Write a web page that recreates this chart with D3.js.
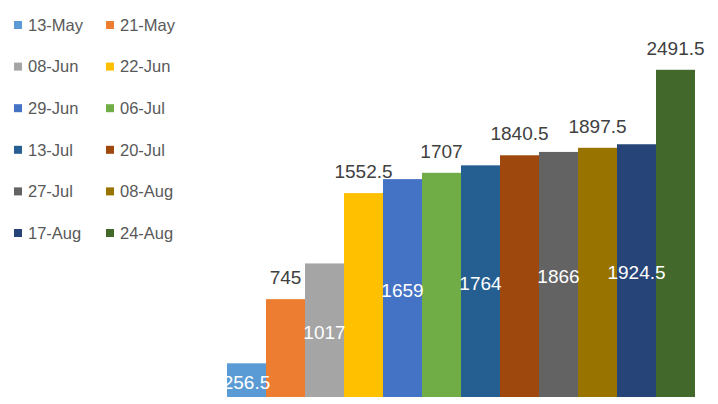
<!DOCTYPE html>
<html><head><meta charset="utf-8">
<script src="https://cdn.jsdelivr.net/npm/d3@7"></script>
<style>body{margin:0;background:#fff}svg{display:block}text{font-family:"Liberation Sans",Arial,sans-serif}</style>
</head><body>
<svg id="c" width="718" height="404"></svg>
<script>
const series = ["13-May","21-May","08-Jun","22-Jun","29-Jun","06-Jul","13-Jul","20-Jul","27-Jul","08-Aug","17-Aug","24-Aug"];
const values = [256.5,745,1017,1552.5,1659,1707,1764,1840.5,1866,1897.5,1924.5,2491.5];
const colors = ["#5B9BD5","#ED7D31","#A5A5A5","#FFC000","#4472C4","#70AD47","#255E91","#9E480E","#636363","#997300","#264478","#43682B"];
const labels = ["256.5","745","1017","1552.5","1659","1707","1764","1840.5","1866","1897.5","1924.5","2491.5"];

const svg = d3.select("#c");
const plot = {left:227, right:712, top:3, bottom:397};
const x = d3.scaleBand().domain(series).range([plot.left, 695]).padding(0);
const y = d3.scaleLinear().domain([0,3000]).range([plot.bottom, plot.top]);

svg.append("clipPath").attr("id","pc").append("rect")
  .attr("x",plot.left).attr("y",0).attr("width",plot.right-plot.left).attr("height",404);

const g = svg.append("g").attr("clip-path","url(#pc)");
g.selectAll("rect.bar").data(values).join("rect").attr("class","bar")
  .attr("x",(d,i)=>x(series[i])).attr("width",x.bandwidth())
  .attr("y",d=>y(d)).attr("height",d=>y(0)-y(d))
  .attr("fill",(d,i)=>colors[i]);

g.selectAll("text.lbl").data(values).join("text").attr("class","lbl")
  .attr("x",(d,i)=>x(series[i])+x.bandwidth()/2)
  .attr("y",(d,i)=> i%2===0 ? (y(d)+y(0))/2 + 2 : y(d)-15)
  .attr("dy",(d,i)=> i%2===0 ? "0.35em" : "0")
  .attr("text-anchor","middle")
  .attr("font-size",19)
  .attr("fill",(d,i)=> i%2===0 ? "#FFFFFF" : "#404040")
  .text((d,i)=>labels[i]);

// legend
const leg = svg.append("g");
const rowH = 41.6;
series.forEach((s,i)=>{
  const col = i%2, row = Math.floor(i/2);
  const lx = col===0 ? 14 : 106;
  const ly = 25 + row*rowH;
  leg.append("rect").attr("x",lx).attr("y",ly-4).attr("width",8).attr("height",8).attr("fill",colors[i]);
  leg.append("text").attr("x",lx+14).attr("y",ly).attr("dy","0.35em")
    .attr("font-size",16.5).attr("fill","#595959").text(s);
});
</script>
</body></html>
